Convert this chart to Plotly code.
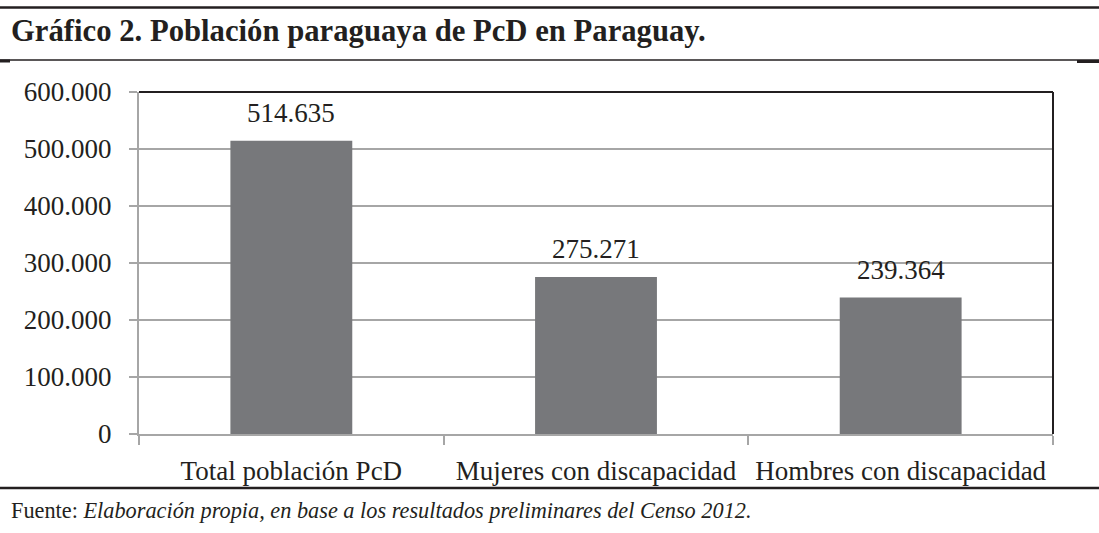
import plotly.graph_objects as go

categories = ["Total población PcD", "Mujeres con discapacidad", "Hombres con discapacidad"]
values = [514635, 275271, 239364]
tick_values = [0, 100000, 200000, 300000, 400000, 500000, 600000]
tick_labels = ["0", "100.000", "200.000", "300.000", "400.000", "500.000", "600.000"]
title_text = "Gráfico 2. Población paraguaya de PcD en Paraguay."
source_label = "Fuente: "
source_text = "Elaboración propia, en base a los resultados preliminares del Censo 2012."

W, H = 1099, 533
L, R, T, B = 139, 1053, 92, 434
FONT = "Liberation Serif"
TXT = "#231f20"

def px_x(x):
    return (x - L) / (R - L)

def px_y(y):
    return (B - y) / (B - T)

def fmt(v):
    return f"{v:,}".replace(",", ".")

fig = go.Figure(go.Bar(
    x=categories, y=values,
    marker=dict(color="#77787b", line=dict(width=0)),
    width=0.4,
))

annotations = []
for c, v in zip(categories, values):
    annotations.append(dict(x=c, y=v, xref="x", yref="y", text=fmt(v), showarrow=False,
                            yanchor="bottom", yshift=11,
                            font=dict(family=FONT, size=27, color=TXT)))
annotations.append(dict(x=px_x(9), y=px_y(31), xref="paper", yref="paper", xanchor="left",
                        yanchor="middle", showarrow=False, text="<b>" + title_text + "</b>",
                        font=dict(family=FONT, size=30.7, color=TXT)))
annotations.append(dict(x=px_x(9), y=px_y(510), xref="paper", yref="paper", xanchor="left",
                        yanchor="middle", showarrow=False,
                        text=source_label + "<i>" + source_text + "</i>",
                        font=dict(family=FONT, size=22.3, color=TXT)))

def hline(y, x0, x1, w, color="#231f20"):
    return dict(type="line", xref="paper", yref="paper", x0=px_x(x0), x1=px_x(x1),
                y0=px_y(y), y1=px_y(y), line=dict(color=color, width=w))

shapes = [
    hline(7.5, 0, W, 2.5),
    hline(60, 0, W, 1.5),
    hline(61, 0, 10, 3),
    hline(61.5, 1077, W, 3),
    hline(488, 0, W, 2.5),
    # plot border top and right
    dict(type="line", xref="paper", yref="paper", x0=0, x1=1, y0=1, y1=1,
         line=dict(color="#231f20", width=2)),
    dict(type="line", xref="paper", yref="paper", x0=1, x1=1, y0=0, y1=1,
         line=dict(color="#231f20", width=2)),
]

fig.update_layout(
    width=W, height=H,
    margin=dict(l=L, r=W - R, t=T, b=H - B),
    paper_bgcolor="white", plot_bgcolor="white",
    showlegend=False,
    annotations=annotations,
    shapes=shapes,
    font=dict(family=FONT, size=27, color=TXT),
    xaxis=dict(
        type="category", showline=True, linecolor="#a6a6a6", linewidth=2,
        ticks="outside", tickson="boundaries", ticklen=9, tickcolor="#a6a6a6", tickwidth=2,
        showgrid=False, tickfont=dict(family=FONT, size=27, color=TXT),
        ticklabelstandoff=12,
        range=[-0.5, 2.5],
    ),
    yaxis=dict(
        range=[0, 600000], tickvals=tick_values, ticktext=tick_labels,
        showline=True, linecolor="#a6a6a6", linewidth=2,
        ticks="outside", ticklen=8, tickcolor="#a6a6a6", tickwidth=2,
        showgrid=True, gridcolor="#a6a6a6", gridwidth=2, zeroline=False,
        tickfont=dict(family=FONT, size=27, color=TXT),
        ticklabelstandoff=12,
    ),
)

fig.write_html("out.html", config={"displayModeBar": False},
               post_script="document.body.style.margin='0';document.body.style.overflow='hidden';")
